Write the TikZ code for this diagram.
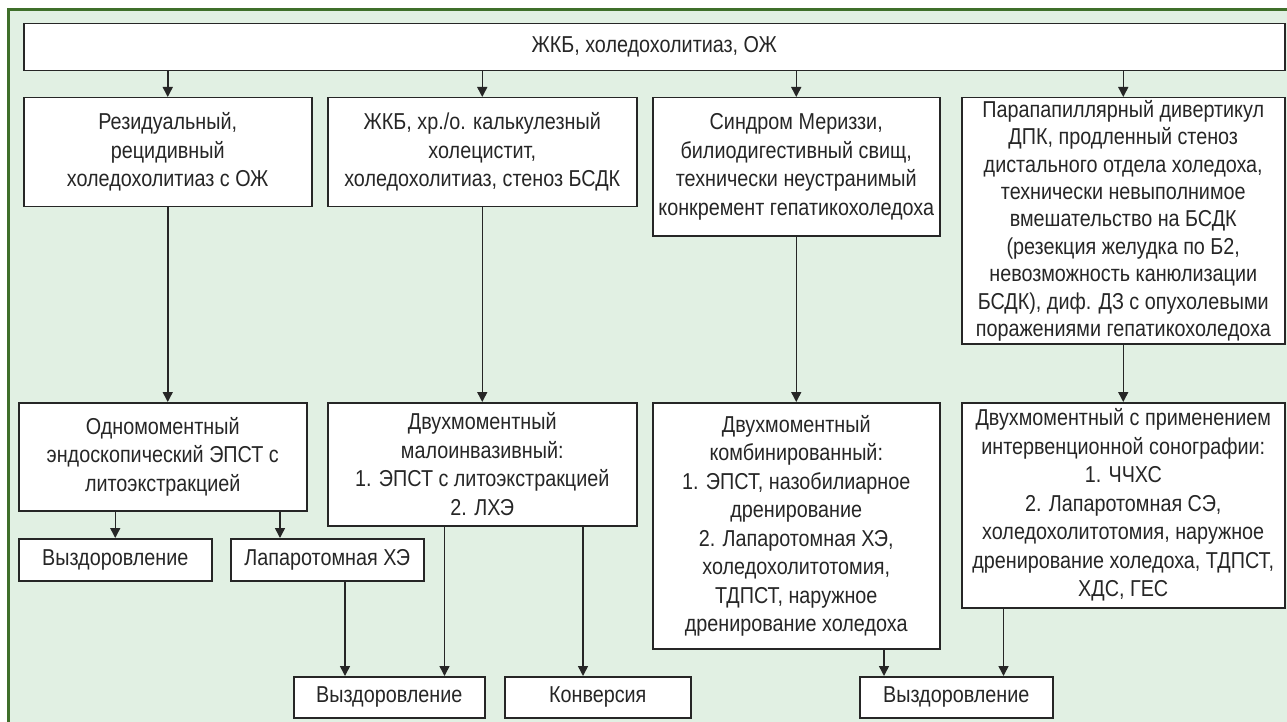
\documentclass[tikz,border=0pt]{standalone}
\usepackage{fontspec}
\setmainfont{Liberation Sans}[FakeStretch=0.86]
\usepackage{tikz}
\usetikzlibrary{positioning}
\usetikzlibrary{calc}
\usetikzlibrary{arrows.meta}
\definecolor{framegreen}{HTML}{3F6F2A}
\definecolor{bggreen}{HTML}{E1F0E3}
\definecolor{inkgray}{HTML}{262626}
\tikzset{
	box/.style={draw=inkgray, line width=1.5pt, fill=white, text=inkgray, anchor=north west, align=center, inner sep=0pt, font=\fontsize{23}{28.5}\selectfont},
	arr/.style={draw=inkgray, line width=1.5pt, -{Triangle[length=10pt, width=10pt]}}
}

\begin{document}
\begin{tikzpicture}[x=1pt, y=-1pt]
	
	\useasboundingbox (0,0) rectangle (1287,722);
	\fill [bggreen] (8,8) rectangle (1287,722);
	\draw [framegreen, line width=3pt] (8.5,722) -- (8.5,9.5) -- (1287,9.5);
	
	\node [box, minimum width=1261, minimum height=47] at (23,23) (1ZhKB) {ЖКБ, холедохолитиаз, ОЖ};
	
	\node [box, minimum width=288, minimum height=109] at (23,97) (2Resid) {Резидуальный,\\рецидивный\\холедохолитиаз с ОЖ};
	\node [box, minimum width=309, minimum height=109] at (327,97) (2Kalk) {ЖКБ, хр./о. калькулезный\\холецистит,\\холедохолитиаз, стеноз БСДК};
	\node [box, minimum width=287, minimum height=138] at (652,97) (2Mirizzi) {Синдром Мериззи,\\билиодигестивный свищ,\\технически неустранимый\\конкремент гепатикохоледоха};
	\node [box, minimum width=323, minimum height=246, font=\fontsize{23}{27.4}\selectfont] at (961,97) (2Divert) {Парапапиллярный дивертикул\\ДПК, продленный стеноз\\дистального отдела холедоха,\\технически невыполнимое\\вмешательство на БСДК\\(резекция желудка по Б2,\\невозможность канюлизации\\БСДК), диф. ДЗ с опухолевыми\\поражениями гепатикохоледоха};
	
	\node [box, minimum width=288, minimum height=108] at (18,402) (3Odnomom) {Одномоментный\\эндоскопический ЭПСТ с\\литоэкстракцией};
	\node [box, minimum width=309, minimum height=123] at (327,402) (3Malo) {Двухмоментный\\малоинвазивный:\\1. ЭПСТ с литоэкстракцией\\2. ЛХЭ};
	\node [box, minimum width=287, minimum height=246] at (652,402) (3Kombi) {Двухмоментный\\комбинированный:\\1. ЭПСТ, назобилиарное\\дренирование\\2. Лапаротомная ХЭ,\\холедохолитотомия,\\ТДПСТ, наружное\\дренирование холедоха};
	\node [box, minimum width=323, minimum height=205] at (961,402) (3Sono) {Двухмоментный с применением\\интервенционной сонографии:\\1. ЧЧХС\\2. Лапаротомная СЭ,\\холедохолитотомия, наружное\\дренирование холедоха, ТДПСТ,\\ХДС, ГЕС};
	
	\node [box, minimum width=193, minimum height=42] at (18,538) (4Vyzd) {Выздоровление}; \node [box, minimum width=193, minimum height=42] at (230,538) (4Laparo) {Лапаротомная ХЭ};
	
	\node [box, minimum width=191, minimum height=41] at (293,676) (5Vyzd) {Выздоровление}; \node [box, minimum width=186, minimum height=41] at (504,676) (5Konv) {Конверсия};
	\node [box, minimum width=193, minimum height=41] at (859,676) (5Vyzd2) {Выздоровление};
	
	\draw [arr] (1ZhKB.south -| 2Resid) -- (2Resid); \draw [arr] (1ZhKB.south -| 2Kalk) -- (2Kalk);
	\draw [arr] (1ZhKB.south -| 2Mirizzi) -- (2Mirizzi); \draw [arr] (1ZhKB.south -| 2Divert) -- (2Divert);
	\draw [arr] (2Resid) -- (2Resid |- 3Odnomom.north); \draw [arr] (2Kalk) -- (3Malo);
	\draw [arr] (2Mirizzi) -- (3Kombi); \draw [arr] (2Divert) -- (3Sono);
	\draw [arr] (3Odnomom.south -| 4Vyzd) -- (4Vyzd); \draw [arr] ([xshift=50pt]4Laparo.north west |- 3Odnomom.south) -- ([xshift=50pt]4Laparo.north west);
	\draw [arr] ([xshift=52pt]5Vyzd.north west |- 4Laparo.south) -- ([xshift=52pt]5Vyzd.north west); \draw [arr] ([xshift=-41pt]5Vyzd.north east |- 3Malo.south) -- ([xshift=-41pt]5Vyzd.north east);
	\draw [arr] ([xshift=79pt]5Konv.north west |- 3Malo.south) -- ([xshift=79pt]5Konv.north west);
	\draw [arr] ([xshift=25pt]5Vyzd2.north west |- 3Kombi.south) -- ([xshift=25pt]5Vyzd2.north west); \draw [arr] ([xshift=-50pt]5Vyzd2.north east |- 3Sono.south) -- ([xshift=-50pt]5Vyzd2.north east);
	
\end{tikzpicture}
\end{document}
